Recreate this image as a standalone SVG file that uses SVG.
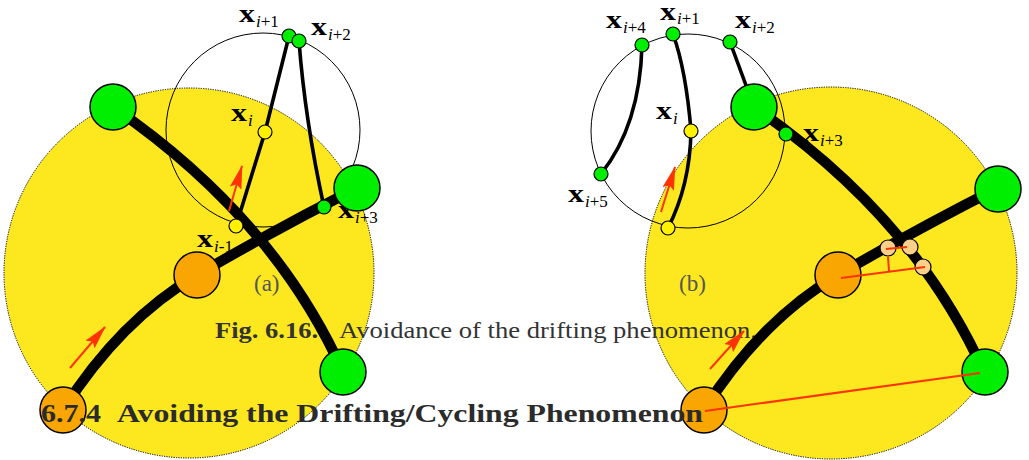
<svg xmlns="http://www.w3.org/2000/svg" width="1029" height="460" viewBox="0 0 1029 460">
<style>
.zone{fill:#FDE81F;stroke:#000;stroke-width:1;stroke-dasharray:1.2,1.2}
.ring{fill:none;stroke:#000;stroke-width:1}
.thick{fill:none;stroke:#000;stroke-width:10.5}
.mid{fill:none;stroke:#000;stroke-width:3.6}
.red{fill:none;stroke:#FF3300;stroke-width:2}
.arr{fill:none;stroke:#FF3300;stroke-width:2;marker-end:url(#ah)}
.big-g{fill:#00EE00;stroke:#000;stroke-width:1.5}
.big-o{fill:#F9A602;stroke:#000;stroke-width:1.5}
.sm-g{fill:#00EE00;stroke:#000;stroke-width:1.2}
.sm-y{fill:#FFF200;stroke:#000;stroke-width:1.2}
.peach{fill:#FCD089;stroke:#000;stroke-width:1.2}
.lx{font-family:"Liberation Serif",serif;font-weight:bold;font-size:25px;fill:#000}
.ls{font-family:"Liberation Serif",serif;font-size:17px;fill:#000}
.pl{font-family:"Liberation Serif",serif;font-size:23px;fill:#555}
.capb{font-family:"Liberation Serif",serif;font-weight:bold;font-size:24px;fill:#333}
.cap{font-family:"Liberation Serif",serif;font-size:24px;fill:#333}
.head{font-family:"Liberation Serif",serif;font-weight:bold;font-size:26px;fill:#2b2b2b}
</style>
<defs>
<marker id="ah" viewBox="0 0 24 12" refX="23" refY="6" markerWidth="24" markerHeight="12" markerUnits="userSpaceOnUse" orient="auto">
<path d="M0,0 L24,6 L0,12 L4,6 z" fill="#FF3300"/>
</marker>
</defs>

<g id="zones">
<circle class="zone" cx="189" cy="273" r="185"/>
<circle class="zone" cx="831" cy="273" r="186"/>
</g>

<g id="caption">
<text class="capb" x="215" y="338" textLength="103" lengthAdjust="spacingAndGlyphs">Fig. 6.16.</text>
<text class="cap" x="339" y="338" textLength="418" lengthAdjust="spacingAndGlyphs">Avoidance of the drifting phenomenon.</text>
</g>

<g id="labels">
<g id="lab-a-i1"><text class="lx" x="239" y="22" textLength="16" lengthAdjust="spacingAndGlyphs">x</text><text class="ls" x="256" y="27"><tspan font-style="italic">i</tspan>+1</text></g>
<g id="lab-a-i2"><text class="lx" x="311" y="35" textLength="16" lengthAdjust="spacingAndGlyphs">x</text><text class="ls" x="328" y="40"><tspan font-style="italic">i</tspan>+2</text></g>
<g id="lab-a-i"><text class="lx" x="231" y="121" textLength="16" lengthAdjust="spacingAndGlyphs">x</text><text class="ls" x="248" y="126" font-style="italic">i</text></g>
<g id="lab-a-im1"><text class="lx" x="197" y="247" textLength="16" lengthAdjust="spacingAndGlyphs">x</text><text class="ls" x="214" y="252"><tspan font-style="italic">i</tspan>-1</text></g>
<g id="lab-a-i3"><text class="lx" x="338" y="218" textLength="16" lengthAdjust="spacingAndGlyphs">x</text><text class="ls" x="355" y="223"><tspan font-style="italic">i</tspan>+3</text></g>
<g id="lab-b-i4"><text class="lx" x="606" y="28" textLength="16" lengthAdjust="spacingAndGlyphs">x</text><text class="ls" x="623" y="33"><tspan font-style="italic">i</tspan>+4</text></g>
<g id="lab-b-i1"><text class="lx" x="660" y="20" textLength="16" lengthAdjust="spacingAndGlyphs">x</text><text class="ls" x="677" y="24"><tspan font-style="italic">i</tspan>+1</text></g>
<g id="lab-b-i2"><text class="lx" x="735" y="28" textLength="16" lengthAdjust="spacingAndGlyphs">x</text><text class="ls" x="752" y="33"><tspan font-style="italic">i</tspan>+2</text></g>
<g id="lab-b-i"><text class="lx" x="656" y="119" textLength="16" lengthAdjust="spacingAndGlyphs">x</text><text class="ls" x="673" y="124" font-style="italic">i</text></g>
<g id="lab-b-i5"><text class="lx" x="568" y="202" textLength="16" lengthAdjust="spacingAndGlyphs">x</text><text class="ls" x="585" y="207"><tspan font-style="italic">i</tspan>+5</text></g>
<g id="lab-b-i3"><text class="lx" x="803" y="141" textLength="16" lengthAdjust="spacingAndGlyphs">x</text><text class="ls" x="820" y="146"><tspan font-style="italic">i</tspan>+3</text></g>
<text class="pl" x="254" y="291">(a)</text>
<text class="pl" x="679" y="291">(b)</text>
</g>

<g id="connectors">
<circle class="ring" cx="263" cy="130" r="97"/>
<circle class="ring" cx="688" cy="131" r="97"/>
<path class="thick" d="M113,107 Q274,218 343,372"/>
<path class="thick" d="M63,410 Q120,320 197,275 T357,188"/>
<path class="thick" d="M754,107 Q915,218 984,372"/>
<path class="thick" d="M704,410 Q761,320 838,275 T998,188"/>
<path class="mid" d="M236,226 L265,132 L289,36"/>
<path class="mid" d="M299,41 Q305,120 324,207"/>
<path class="mid" d="M642,45 Q640,125 601,174"/>
<path class="mid" d="M673,34 Q686,70 691,131"/>
<path class="mid" d="M691,131 Q690,185 668,228"/>
<path class="mid" d="M730,42 L754,107"/>
</g>

<g id="nodes">
<circle id="a-g1" class="big-g" cx="113" cy="107" r="23"/>
<circle id="a-g2" class="big-g" cx="357" cy="188" r="23"/>
<circle id="a-g3" class="big-g" cx="343" cy="372" r="23"/>
<circle id="a-o1" class="big-o" cx="197" cy="275" r="23"/>
<circle id="a-o2" class="big-o" cx="63" cy="410" r="23"/>
<circle id="a-xi1" class="sm-g" cx="289" cy="36" r="7"/>
<circle id="a-xi2" class="sm-g" cx="299" cy="41" r="7"/>
<circle id="a-xi" class="sm-y" cx="265" cy="132" r="7"/>
<circle id="a-xim1" class="sm-y" cx="236" cy="226" r="7"/>
<circle id="a-xi3" class="sm-g" cx="324" cy="207" r="7"/>

<circle id="b-g1" class="big-g" cx="754" cy="107" r="23"/>
<circle id="b-g2" class="big-g" cx="998" cy="189" r="23"/>
<circle id="b-g3" class="big-g" cx="985" cy="372" r="23"/>
<circle id="b-o1" class="big-o" cx="838" cy="275" r="23"/>
<circle id="b-o2" class="big-o" cx="704" cy="410" r="23"/>
<circle id="b-xi4" class="sm-g" cx="642" cy="45" r="7"/>
<circle id="b-xi1" class="sm-g" cx="673" cy="34" r="7"/>
<circle id="b-xi2" class="sm-g" cx="730" cy="42" r="7"/>
<circle id="b-xi" class="sm-y" cx="691" cy="131" r="7"/>
<circle id="b-xim1" class="sm-y" cx="668" cy="228" r="7"/>
<circle id="b-xi5" class="sm-g" cx="601" cy="174" r="7"/>
<circle id="b-xi3" class="sm-g" cx="786" cy="134" r="7"/>
<circle id="b-p1" class="peach" cx="888" cy="248" r="8"/>
<circle id="b-p2" class="peach" cx="910" cy="247" r="8"/>
<circle id="b-p3" class="peach" cx="923" cy="267" r="8"/>
</g>

<g id="heading">
<text class="head" x="41" y="422" textLength="60" lengthAdjust="spacingAndGlyphs">6.7.4</text>
<text class="head" x="117" y="422" textLength="586" lengthAdjust="spacingAndGlyphs">Avoiding the Drifting/Cycling Phenomenon</text>
</g>

<g id="red-connectors">
<path class="arr" d="M229,211 L242,166"/>
<path class="arr" d="M70,368 L105,327"/>
<path class="arr" d="M661,212 L675,167"/>
<path class="arr" d="M710,369 L744,331"/>
<path class="red" d="M841,278 L925,267"/>
<path class="red" d="M888,257 L889,271"/>
<path class="red" d="M886,249 L907,247"/>
<path class="red" d="M705,411 L980,373"/>
</g>
</svg>
